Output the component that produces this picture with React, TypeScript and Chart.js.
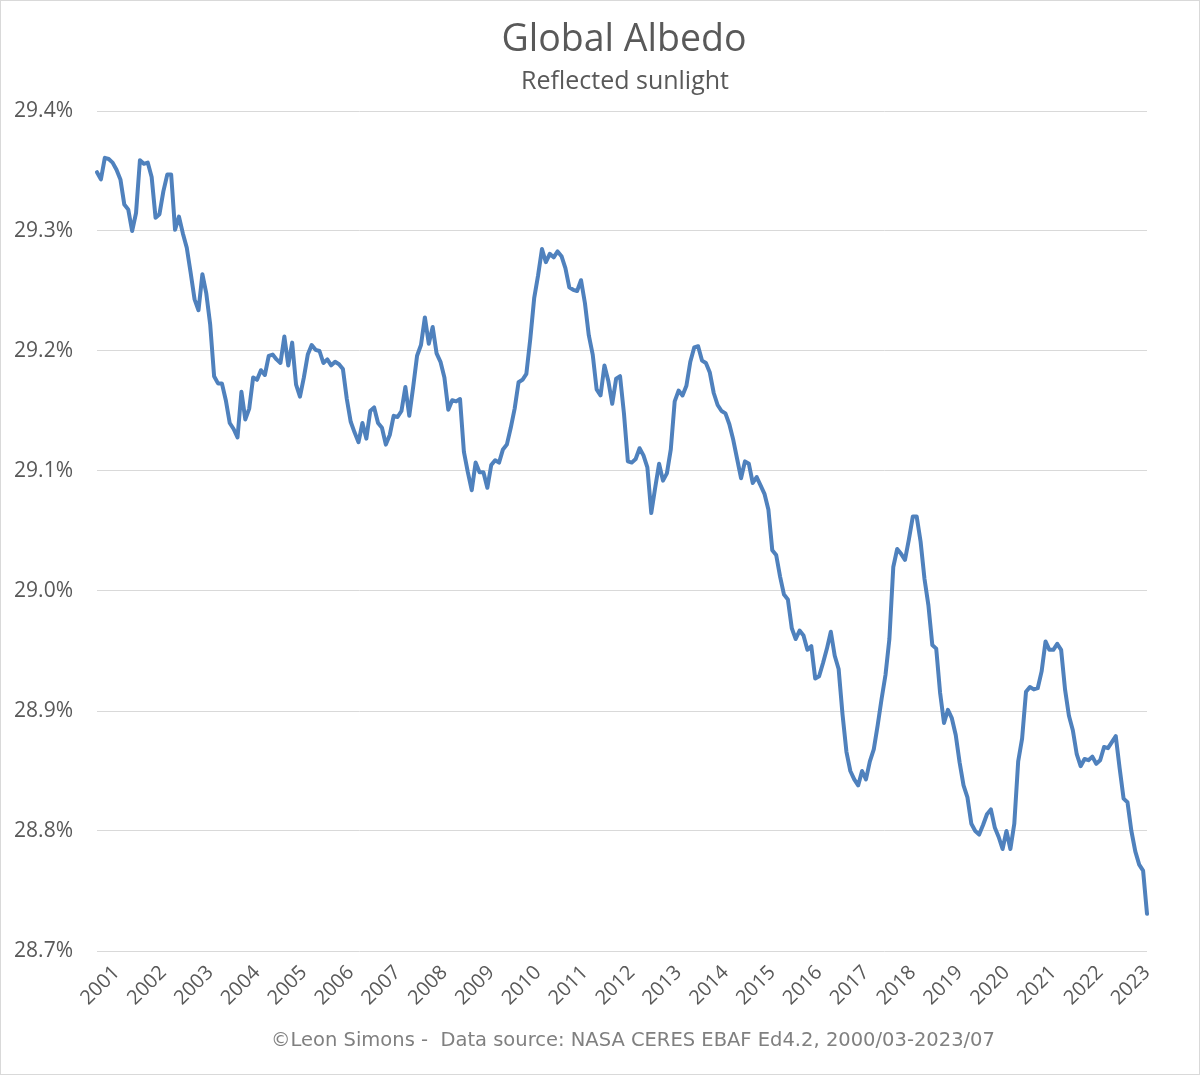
import React, { useEffect, useRef } from "react";
import { Chart, registerables } from "chart.js";

Chart.register(...registerables);

const TITLE = "Global Albedo";
const SUBTITLE = "Reflected sunlight";
const FOOTER = "©Leon Simons -  Data source: NASA CERES EBAF Ed4.2, 2000/03-2023/07";

const START_YEAR = 2001;
const START_MONTH = 2;
const LABEL_MONTH = 7;

const yearLabels = [
  "2001", "2002", "2003", "2004", "2005", "2006", "2007", "2008", "2009", "2010", "2011", "2012",
  "2013", "2014", "2015", "2016", "2017", "2018", "2019", "2020", "2021", "2022", "2023",
];

const Y_MIN = 28.7;
const Y_MAX = 29.4;
const Y_STEP = 0.1;

// 12-month mean global albedo (%), monthly from 2001/02 to 2023/07
const albedo = [
  29.349, 29.343, 29.361, 29.360, 29.357, 29.351, 29.343, 29.322, 29.318, 29.300,
  29.315, 29.359, 29.356, 29.357, 29.345, 29.311, 29.314, 29.333, 29.347, 29.347,
  29.301, 29.312, 29.298, 29.286, 29.265, 29.243, 29.234, 29.264, 29.248, 29.222,
  29.179, 29.173, 29.173, 29.159, 29.140, 29.135, 29.128, 29.166, 29.143, 29.152,
  29.178, 29.176, 29.184, 29.180, 29.196, 29.197, 29.193, 29.190, 29.212, 29.188,
  29.207, 29.172, 29.162, 29.178, 29.197, 29.205, 29.201, 29.200, 29.190, 29.193,
  29.188, 29.191, 29.189, 29.185, 29.160, 29.141, 29.132, 29.124, 29.140, 29.127,
  29.150, 29.153, 29.140, 29.136, 29.122, 29.130, 29.146, 29.145, 29.150, 29.170,
  29.146, 29.170, 29.196, 29.205, 29.228, 29.206, 29.220, 29.198, 29.191, 29.178,
  29.151, 29.159, 29.158, 29.160, 29.116, 29.099, 29.084, 29.107, 29.099, 29.099,
  29.086, 29.105, 29.109, 29.107, 29.118, 29.122, 29.136, 29.152, 29.174, 29.176,
  29.181, 29.210, 29.244, 29.263, 29.285, 29.274, 29.281, 29.278, 29.283, 29.279,
  29.269, 29.253, 29.251, 29.250, 29.259, 29.240, 29.213, 29.197, 29.168, 29.163,
  29.188, 29.175, 29.156, 29.177, 29.179, 29.148, 29.108, 29.107, 29.110, 29.119,
  29.113, 29.103, 29.065, 29.086, 29.106, 29.092, 29.098, 29.118, 29.158, 29.167,
  29.163, 29.171, 29.191, 29.203, 29.204, 29.192, 29.190, 29.182, 29.165, 29.155,
  29.150, 29.148, 29.139, 29.126, 29.110, 29.094, 29.108, 29.106, 29.090, 29.095,
  29.088, 29.081, 29.068, 29.034, 29.030, 29.012, 28.997, 28.993, 28.969, 28.960,
  28.967, 28.963, 28.951, 28.954, 28.927, 28.929, 28.940, 28.952, 28.966, 28.946,
  28.935, 28.897, 28.866, 28.850, 28.843, 28.838, 28.850, 28.843, 28.858, 28.868,
  28.888, 28.910, 28.930, 28.960, 29.020, 29.035, 29.031, 29.026, 29.043, 29.062,
  29.062, 29.041, 29.010, 28.988, 28.955, 28.952, 28.915, 28.890, 28.901, 28.894,
  28.880, 28.857, 28.838, 28.828, 28.806, 28.800, 28.797, 28.805, 28.814, 28.818,
  28.803, 28.795, 28.785, 28.800, 28.785, 28.806, 28.858, 28.877, 28.916, 28.920,
  28.918, 28.919, 28.933, 28.958, 28.951, 28.951, 28.956, 28.951, 28.918, 28.896,
  28.884, 28.864, 28.854, 28.860, 28.859, 28.862, 28.856, 28.859, 28.870, 28.869,
  28.874, 28.879, 28.852, 28.827, 28.824, 28.800, 28.783, 28.772, 28.767, 28.731,
];

const months: { year: number; month: number; label: string }[] = albedo.map((_, i) => {
  const t = START_MONTH - 1 + i;
  const year = START_YEAR + Math.floor(t / 12);
  const month = (t % 12) + 1;
  return { year, month, label: `${year}/${String(month).padStart(2, "0")}` };
});

const W = 1200;
const H = 1075;
const TEXT = "#595959";
const GRID = "#D9D9D9";
const LINE = "#4F81BD";

const decorPlugin = {
  id: "decor",
  beforeDraw(chart: any) {
    const ctx = chart.ctx;
    ctx.save();
    ctx.fillStyle = "#ffffff";
    ctx.fillRect(0, 0, W, H);
    ctx.restore();
  },
  afterDraw(chart: any) {
    const ctx = chart.ctx;
    ctx.save();
    ctx.textAlign = "center";
    ctx.textBaseline = "alphabetic";
    ctx.fillStyle = TEXT;
    ctx.font = '37.5px "Open Sans"';
    ctx.fillText(TITLE, 624, 51);
    ctx.font = '25px "Open Sans"';
    ctx.fillText(SUBTITLE, 625, 89);
    ctx.fillStyle = "#808080";
    ctx.font = '19.5px "DejaVu Sans"';
    ctx.fillText(FOOTER, 633, 1046);
    ctx.strokeStyle = GRID;
    ctx.lineWidth = 1;
    ctx.strokeRect(0.5, 0.5, W - 1, H - 1);
    ctx.restore();
  },
};

export default function App() {
  const ref = useRef<HTMLCanvasElement | null>(null);

  useEffect(() => {
    document.body.style.margin = "0";
    const canvas = ref.current;
    if (!canvas) return;
    const chart = new Chart(canvas, {
      type: "line",
      data: {
        labels: months.map((m) => m.label),
        datasets: [
          {
            label: "Global albedo",
            data: albedo,
            borderColor: LINE,
            backgroundColor: LINE,
            borderWidth: 4,
            pointRadius: 0,
            pointHoverRadius: 0,
            tension: 0,
            borderJoinStyle: "round",
            borderCapStyle: "round",
            fill: false,
          },
        ],
      },
      options: {
        responsive: false,
        animation: false,
        devicePixelRatio: 1,
        layout: { padding: { top: 111, left: 0, right: 53, bottom: 54 } },
        plugins: {
          legend: { display: false },
          title: { display: false },
          tooltip: { enabled: false },
        },
        scales: {
          x: {
            type: "category",
            offset: false,
            grid: { display: false, drawTicks: false },
            border: { display: false },
            ticks: {
              autoSkip: false,
              maxRotation: 45,
              minRotation: 45,
              padding: 10,
              color: TEXT,
              font: { family: "Open Sans", size: 20 },
              callback: (_v: any, idx: number) => {
                const m = months[idx];
                if (m && m.month === LABEL_MONTH) return yearLabels[m.year - START_YEAR];
                return null;
              },
            },
            afterFit: (scale: any) => {
              scale.height = 70;
            },
          },
          y: {
            min: Y_MIN,
            max: Y_MAX,
            grid: { color: GRID, lineWidth: 1, drawTicks: false },
            border: { display: false },
            ticks: {
              stepSize: Y_STEP,
              padding: 24,
              color: TEXT,
              font: { family: "Open Sans", size: 21 },
              callback: (v: any) => Number(v).toFixed(1) + "%",
            },
            afterFit: (scale: any) => {
              scale.width = 97;
            },
          },
        },
      },
      plugins: [decorPlugin],
    } as any);
    return () => chart.destroy();
  }, []);

  return <canvas ref={ref} width={W} height={H} style={{ display: "block", width: W, height: H }} />;
}
